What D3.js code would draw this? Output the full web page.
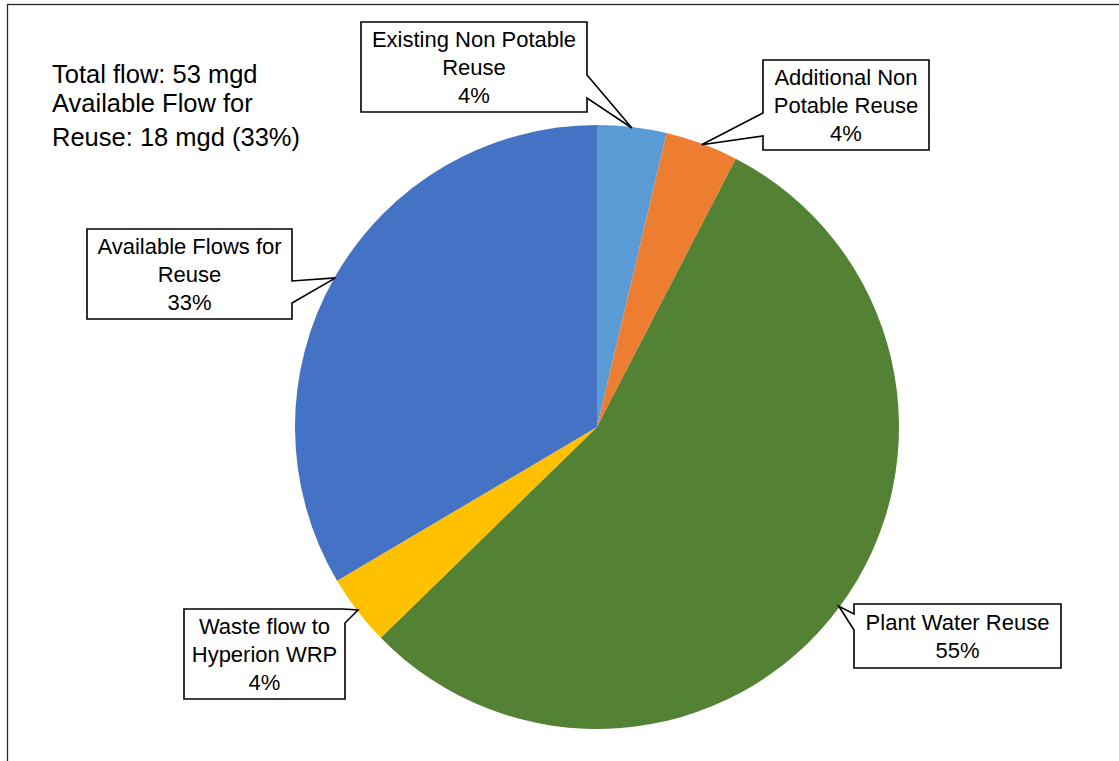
<!DOCTYPE html>
<html>
<head>
<meta charset="utf-8">
<script src="https://cdn.jsdelivr.net/npm/d3@7"></script>
<style>
  html, body { margin: 0; padding: 0; background: #fff; }
  svg { display: block; }
  text { font-family: "Liberation Sans", Arial, sans-serif; fill: #000; }
</style>
</head>
<body>
<svg id="chart" width="1119" height="761"></svg>
<script>
// ---- data ----
const categories = ["Existing Non Potable Reuse", "Additional Non Potable Reuse", "Plant Water Reuse", "Waste flow to Hyperion WRP", "Available Flows for Reuse"];
const values = [3.7, 3.9, 55.1, 3.8, 33.5];
const percentLabels = ["4%", "4%", "55%", "4%", "33%"];
const labelLines = [
  ["Existing Non Potable", "Reuse"],
  ["Additional Non", "Potable Reuse"],
  ["Plant Water Reuse"],
  ["Waste flow to", "Hyperion WRP"],
  ["Available Flows for", "Reuse"]
];
const colors = ["#5B9BD5", "#ED7D31", "#548235", "#FFC000", "#4472C4"];
const noteLines = ["Total flow: 53 mgd", "Available Flow for", "Reuse: 18 mgd (33%)"];

// ---- layout ----
const svg = d3.select("#chart");
const cx = 597, cy = 427, R = 302;

// outer chart border (extends beyond the viewport on right/bottom)
svg.append("rect")
  .attr("x", 7.5).attr("y", 4.5)
  .attr("width", 1200).attr("height", 900)
  .attr("fill", "none").attr("stroke", "#262626").attr("stroke-width", 1.3);

const pie = d3.pie().sort(null).value(d => d).startAngle(0).endAngle(2 * Math.PI);
const arcs = pie(values);
const arc = d3.arc().innerRadius(0).outerRadius(R);
const edgeArc = d3.arc().innerRadius(R - 1).outerRadius(R - 1);

const g = svg.append("g").attr("transform", `translate(${cx},${cy})`);
g.selectAll("path.slice")
  .data(arcs)
  .join("path")
  .attr("class", "slice")
  .attr("d", arc)
  .attr("fill", (d, i) => colors[i]);

// note text
const note = svg.append("text").attr("font-size", 25.5);
const noteY = [83, 112, 146];
noteLines.forEach((t, i) => {
  note.append("tspan").attr("x", 52).attr("y", noteY[i]).text(t);
});

// callout boxes: x, y, w, h and pointer base points (placement layout)
const boxes = [
  { x: 361, y: 22, w: 226, h: 90, side: "right", b1: 75, b2: 98 },
  { x: 763, y: 60, w: 166, h: 90, side: "left", b1: 113, b2: 136 },
  { x: 854, y: 604, w: 207, h: 64, side: "left", b1: 614, b2: 630 },
  { x: 184, y: 609, w: 161, h: 90, side: "topright", b1: 343, b2: 623 },
  { x: 87, y: 229, w: 205, h: 90, side: "right", b1: 281, b2: 303 }
];

function calloutPath(b, tip) {
  const x0 = b.x, y0 = b.y, x1 = b.x + b.w, y1 = b.y + b.h;
  let pts;
  if (b.side === "right") {
    pts = [[x0, y0], [x1, y0], [x1, b.b1], tip, [x1, b.b2], [x1, y1], [x0, y1]];
  } else if (b.side === "left") {
    pts = [[x0, y0], [x1, y0], [x1, y1], [x0, y1], [x0, b.b2], tip, [x0, b.b1]];
  } else { // topright
    pts = [[x0, y0], [b.b1, y0], tip, [x1, b.b2], [x1, y1], [x0, y1]];
  }
  return d3.line()(pts) + "Z";
}

const lineH = 28;
arcs.forEach((d, i) => {
  const b = boxes[i];
  const c = edgeArc.centroid(d);
  const tip = [cx + c[0], cy + c[1]];
  svg.append("path")
    .attr("d", calloutPath(b, tip))
    .attr("fill", "#fff")
    .attr("stroke", "#000")
    .attr("stroke-width", 1.6)
    .attr("stroke-linejoin", "miter");
  const lines = labelLines[i].concat([percentLabels[i]]);
  const midX = b.x + b.w / 2;
  const startY = b.y + b.h / 2 - (lines.length - 1) * lineH / 2 + 7.5;
  const t = svg.append("text").attr("font-size", 22).attr("text-anchor", "middle");
  lines.forEach((s, k) => {
    t.append("tspan").attr("x", midX).attr("y", startY + k * lineH).text(s);
  });
});
</script>
</body>
</html>
